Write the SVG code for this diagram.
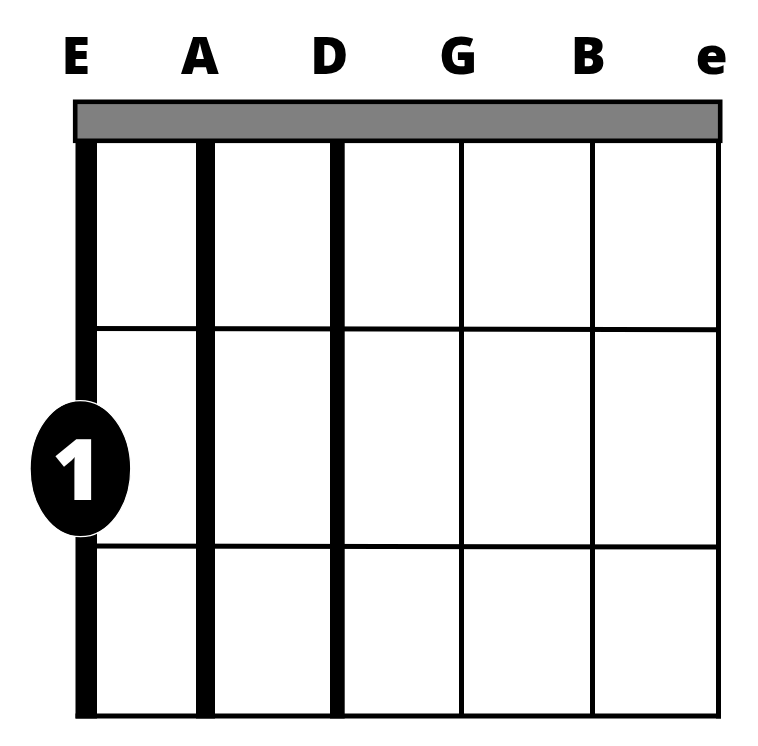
<svg xmlns="http://www.w3.org/2000/svg" width="758" height="746" viewBox="0 0 758 746">
<style>
.lbl{font-family:"Open Sans","DejaVu Sans",sans-serif;font-weight:800;font-size:52px;fill:#000;text-anchor:middle}
.str{fill:#000}
.fret{stroke:#000;stroke-width:5;fill:none}
</style>
<rect width="758" height="746" fill="#fff"/>
<g id="labels">
<text class="lbl" x="75.7" y="74">E</text>
<text class="lbl" x="200" y="74">A</text>
<text class="lbl" x="329.3" y="74">D</text>
<text class="lbl" x="458.3" y="74">G</text>
<text class="lbl" x="588.3" y="74">B</text>
<text class="lbl" x="711.7" y="74">e</text>
</g>
<g id="nut">
<rect x="75.2" y="101.8" width="645" height="39" fill="#808080" stroke="#000" stroke-width="4.6"/>
</g>
<g id="frets">
<line class="fret" x1="76" y1="328.5" x2="720" y2="329.7"/>
<line class="fret" x1="76" y1="546" x2="720" y2="547"/>
<line class="fret" x1="75.5" y1="716" x2="721" y2="716"/>
</g>
<g id="strings">
<rect class="str" x="75.5" y="141" width="21.5" height="577.5"/>
<rect class="str" x="196" y="141" width="19" height="577.5"/>
<rect class="str" x="330" y="141" width="14.7" height="577.5"/>
<rect class="str" x="459" y="141" width="5" height="577"/>
<rect class="str" x="590" y="141" width="5" height="577"/>
<rect class="str" x="716" y="141" width="5" height="577.5"/>
</g>
<g id="finger-1">
<ellipse cx="80.4" cy="468.7" rx="50.3" ry="68" fill="#000" stroke="#fff" stroke-width="1.2"/>
<text x="77" y="500" style="font-family:'Open Sans','DejaVu Sans',sans-serif;font-weight:800;font-size:85px;fill:#fff;text-anchor:middle">1</text>
</g>
</svg>
